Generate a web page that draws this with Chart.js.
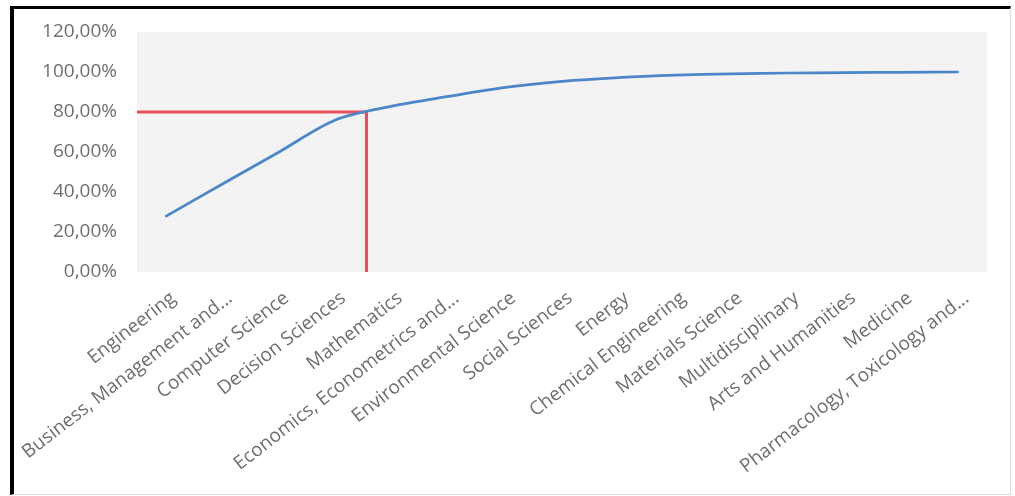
<!DOCTYPE html>
<html><head><meta charset="utf-8">
<script src="https://cdn.jsdelivr.net/npm/chart.js@4.4.1/dist/chart.umd.min.js"></script>
<style>
html,body{margin:0;padding:0;background:#fff;width:1015px;height:496px;overflow:hidden;}
#frame{position:absolute;left:10px;top:6px;width:1001px;height:489px;box-sizing:border-box;border-left:4px solid #000;border-top:3px solid #000;border-right:1px solid #dcdcdc;border-bottom:1px solid #dcdcdc;}
#wrap{position:absolute;left:0;top:0;width:1015px;height:496px;}
</style></head><body>
<div id="frame"></div>
<div id="wrap"><canvas id="c"></canvas></div>
<script>
const categories = [
  "Engineering",
  "Business, Management and...",
  "Computer Science",
  "Decision Sciences",
  "Mathematics",
  "Economics, Econometrics and...",
  "Environmental Science",
  "Social Sciences",
  "Energy",
  "Chemical Engineering",
  "Materials Science",
  "Multidisciplinary",
  "Arts and Humanities",
  "Medicine",
  "Pharmacology, Toxicology and..."
];
const cumulativePercent = [27.7, 43.9, 59.9, 76.0, 82.9, 87.8, 92.3, 95.3, 97.2, 98.4, 99.1, 99.5, 99.7, 99.85, 100];
const yTickValues = [0, 20, 40, 60, 80, 100, 120];
const cutoffLineX = [-0.5, 3.55, 3.55];
const cutoffLineY = [80, 80, 0];

const pat = document.createElement('canvas');
pat.width = 4; pat.height = 4;
const pc = pat.getContext('2d');
pc.fillStyle = '#f4f4f4'; pc.fillRect(0, 0, 4, 4);
pc.fillStyle = '#e9e9e9'; pc.fillRect(0, 0, 1, 1); pc.fillRect(2, 2, 1, 1);

const plotBg = {
  id: 'plotBg',
  beforeDraw(chart) {
    const {ctx, chartArea: a} = chart;
    ctx.save();
    ctx.fillStyle = ctx.createPattern(pat, 'repeat');
    ctx.fillRect(a.left, a.top, a.right - a.left, a.bottom - a.top);
    ctx.restore();
  }
};

const fmtPct = v => v.toFixed(2).replace('.', ',') + '%';

new Chart(document.getElementById('c'), {
  type: 'line',
  data: {
    datasets: [
      {
        data: categories.map((c, i) => ({x: i, y: cumulativePercent[i]})),
        borderColor: '#4a86c8',
        borderWidth: 2.75,
        pointRadius: 0,
        tension: 0.3,
        fill: false
      },
      {
        data: cutoffLineX.map((x, i) => ({x: x, y: cutoffLineY[i]})),
        borderColor: '#e5505f',
        borderWidth: 3,
        pointRadius: 0,
        tension: 0,
        fill: false
      }
    ]
  },
  options: {
    responsive: true,
    maintainAspectRatio: false,
    animation: false,
    layout: {padding: {left: 14, right: 28, top: 32, bottom: 0}},
    plugins: {legend: {display: false}, tooltip: {enabled: false}},
    scales: {
      x: {
        type: 'linear',
        min: -0.5,
        max: 14.5,
        afterBuildTicks: s => { s.ticks = categories.map((c, i) => ({value: i})); },
        afterFit: s => { s.height = 224; },
        grid: {display: false, drawTicks: false},
        border: {display: false},
        ticks: {
          autoSkip: false,
          minRotation: 37.7,
          maxRotation: 37.7,
          padding: 15,
          labelOffset: 8,
          color: '#6e6e6e',
          font: {family: 'Open Sans', size: 19},
          callback: v => categories[v]
        }
      },
      y: {
        min: 0,
        max: 120,
        afterBuildTicks: s => { s.ticks = yTickValues.map(v => ({value: v})); },
        afterFit: s => { s.width = 123; },
        grid: {display: false, drawTicks: false},
        border: {display: false},
        ticks: {
          padding: 20,
          color: '#6e6e6e',
          font: {family: 'Open Sans', size: 19},
          callback: v => fmtPct(v)
        }
      }
    }
  },
  plugins: [plotBg]
});
</script>
</body></html>
